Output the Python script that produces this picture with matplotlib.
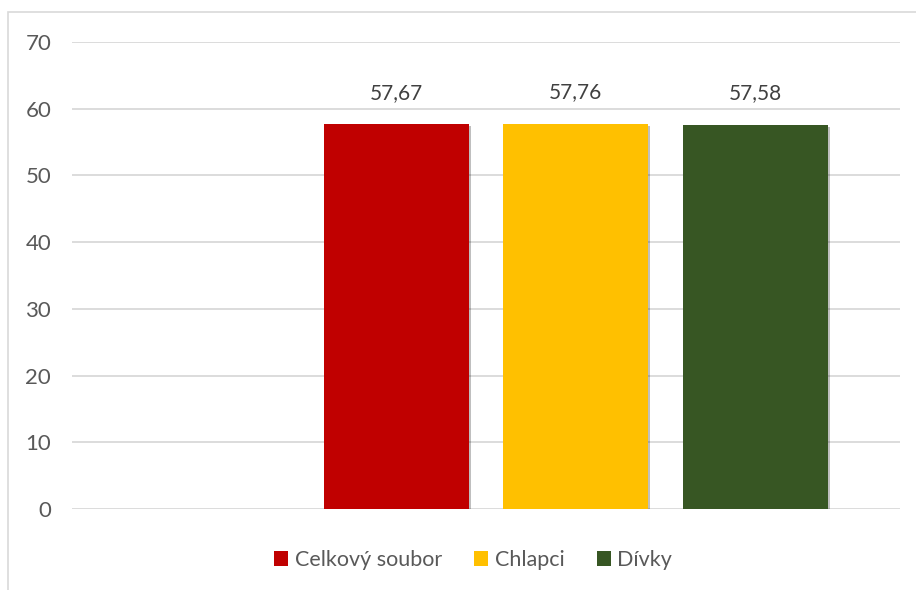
import matplotlib.pyplot as plt
import matplotlib.patheffects as pe
from matplotlib.patches import Rectangle, Patch

# skupiny a průměrné hodnoty
skupiny = ["Celkový soubor", "Chlapci", "Dívky"]
hodnoty = [57.67, 57.76, 57.58]
barvy = ["#C00000", "#FFC000", "#375623"]
y_ticks = [0, 10, 20, 30, 40, 50, 60, 70]

plt.rcParams['font.family'] = ['Lato', 'DejaVu Sans']

W, H = 916, 590
fig = plt.figure(figsize=(W / 100, H / 100), dpi=100)
ax = fig.add_axes([72 / W, (H - 509) / H, 828 / W, 467 / H])

# ramecek grafu
fig.patches.append(Rectangle((8 / W, -0.1), 1.2, (H - 12) / H + 0.1,
                             transform=fig.transFigure, fill=False,
                             edgecolor="#D9D9D9", linewidth=1.2))

pozice = [1, 2, 3]
sirka = 145 / 179.5
stin = [pe.SimplePatchShadow(offset=(1.5, -1.5), shadow_rgbFace="#000000", alpha=0.25), pe.Normal()]
for p, v, c, s in zip(pozice, hodnoty, barvy, skupiny):
    b = ax.bar(p, v, width=sirka, color=c, zorder=3, label=s)
    b[0].set_path_effects(stin)
    ax.text(p, v + 3.2, f"{v:.2f}".replace(".", ","), ha="center", va="bottom",
            fontsize=15, color="#404040")

ax.set_xlim(-144.5 / 179.5, -144.5 / 179.5 + 828 / 179.5)
ax.set_ylim(0, 70)
ax.set_yticks(y_ticks)
ax.set_yticklabels([str(t) for t in y_ticks], fontsize=16, color="#595959")
ax.tick_params(axis="y", length=0, pad=15)
ax.set_xticks([])
ax.grid(axis="y", color="#D9D9D9", linewidth=1.3, zorder=0)
for s in ax.spines.values():
    s.set_visible(False)

handles = [Patch(facecolor=c, label=s) for c, s in zip(barvy, skupiny)]
fig.legend(handles=handles, loc="center", bbox_to_anchor=(473 / W, (H - 560) / H),
           ncol=3, frameon=False, fontsize=15.5, labelcolor="#595959",
           handlelength=0.65, handleheight=0.65, handletextpad=0.3, columnspacing=1.5)

fig.savefig("out.png", dpi=100)
